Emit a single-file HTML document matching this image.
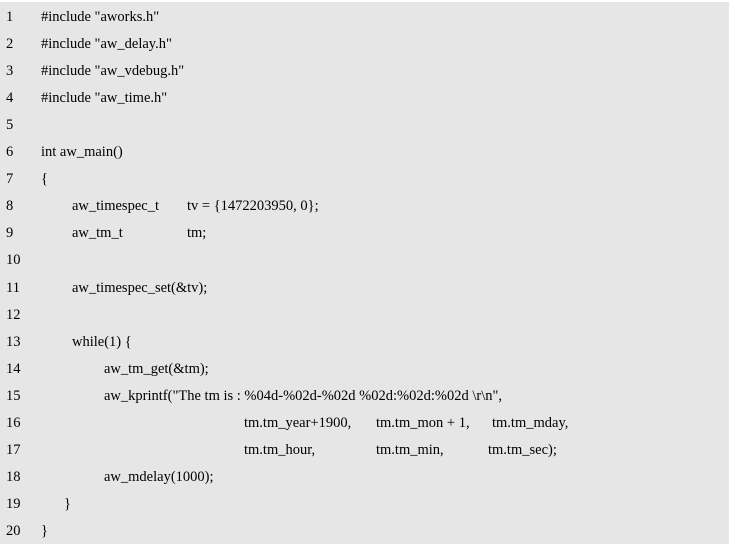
<!DOCTYPE html>
<html><head><meta charset="utf-8"><style>
body{margin:0;width:735px;height:551px;background:#fff;overflow:hidden;position:relative}
#box{position:absolute;left:0;top:2px;width:729px;height:542px;background:#e6e6e6}
.t{position:absolute;font-family:"Liberation Serif",serif;font-size:14.5px;line-height:18px;color:#000;white-space:pre}
</style></head><body><div id="box"></div>
<script>
var L=[
[[6,"1"],[41,'#include "aworks.h"']],
[[6,"2"],[41,'#include "aw_delay.h"']],
[[6,"3"],[41,'#include "aw_vdebug.h"']],
[[6,"4"],[41,'#include "aw_time.h"']],
[[6,"5"]],
[[6,"6"],[41,"int aw_main()"]],
[[6,"7"],[41,"{"]],
[[6,"8"],[72,"aw_timespec_t"],[187,"tv = {1472203950, 0};"]],
[[6,"9"],[72,"aw_tm_t"],[187,"tm;"]],
[[6,"10"]],
[[6,"11"],[72,"aw_timespec_set(&tv);"]],
[[6,"12"]],
[[6,"13"],[72,"while(1) {"]],
[[6,"14"],[104,"aw_tm_get(&tm);"]],
[[6,"15"],[104,'aw_kprintf("The tm is : %04d-%02d-%02d %02d:%02d:%02d \\r\\n",']],
[[6,"16"],[244,"tm.tm_year+1900,"],[376,"tm.tm_mon + 1,"],[492,"tm.tm_mday,"]],
[[6,"17"],[244,"tm.tm_hour,"],[376,"tm.tm_min,"],[488,"tm.tm_sec);"]],
[[6,"18"],[104,"aw_mdelay(1000);"]],
[[6,"19"],[64,"}"]],
[[6,"20"],[41,"}"]]
];
L.forEach(function(r,i){var y=Math.round(17+27.05*i-9);r.forEach(function(s){
var e=document.createElement("div");e.className="t";e.style.left=s[0]+"px";e.style.top=y+"px";e.textContent=s[1];document.body.appendChild(e);});});
</script>
</body></html>
